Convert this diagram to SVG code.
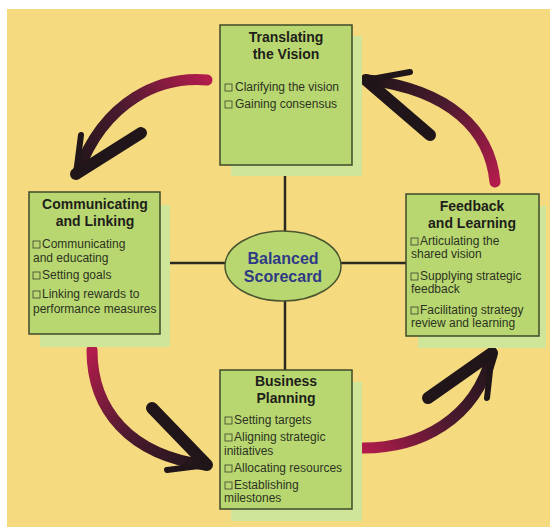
<svg xmlns="http://www.w3.org/2000/svg" width="550" height="530" viewBox="0 0 550 530">
  <defs>
    <style>
      .box { fill: #b9d770; stroke: #3e4a2a; stroke-width: 1.5; }
      .shadow { fill: #cfe59a; }
      .title { font-family: "Liberation Sans", Arial, sans-serif; font-weight: bold; font-size: 14px; fill: #1e1e1a; text-anchor: middle; }
      .item { font-family: "Liberation Sans", Arial, sans-serif; font-size: 12px; fill: #2c3322; }
      .chk { fill: none; stroke: #3a4030; stroke-width: 0.8; }
      .link { stroke: #2a2a20; stroke-width: 2.5; fill: none; }
      .shaft { fill: none; stroke-width: 11; stroke-linecap: round; }
      .barb { fill: none; stroke: #201519; stroke-width: 12; stroke-linecap: round; }
      .tick { fill: none; stroke: #201519; stroke-width: 6; stroke-linecap: round; }
      .hub { font-family: "Liberation Sans", Arial, sans-serif; font-weight: bold; font-size: 16px; fill: #2e3a86; text-anchor: middle; }
    </style>
    <linearGradient id="g1" gradientUnits="userSpaceOnUse" x1="207" y1="80" x2="78" y2="172">
      <stop offset="0" stop-color="#b11c4b"/><stop offset="0.55" stop-color="#4a1a2e"/><stop offset="1" stop-color="#201519"/>
    </linearGradient>
    <linearGradient id="g2" gradientUnits="userSpaceOnUse" x1="495" y1="182" x2="368" y2="80">
      <stop offset="0" stop-color="#b11c4b"/><stop offset="0.55" stop-color="#4a1a2e"/><stop offset="1" stop-color="#201519"/>
    </linearGradient>
    <linearGradient id="g3" gradientUnits="userSpaceOnUse" x1="92" y1="350" x2="205" y2="465">
      <stop offset="0" stop-color="#b11c4b"/><stop offset="0.55" stop-color="#4a1a2e"/><stop offset="1" stop-color="#201519"/>
    </linearGradient>
    <linearGradient id="g4" gradientUnits="userSpaceOnUse" x1="363" y1="448" x2="492" y2="355">
      <stop offset="0" stop-color="#b11c4b"/><stop offset="0.55" stop-color="#4a1a2e"/><stop offset="1" stop-color="#201519"/>
    </linearGradient>
  </defs>

  <!-- page and panel -->
  <rect x="0" y="0" width="550" height="530" fill="#ffffff"/>
  <rect x="7" y="9" width="543" height="518" fill="#f5da7f"/>

  <!-- cycle arrows -->
  <g id="cycle-arrows">
    <path class="shaft" stroke="url(#g1)" d="M 207,80 C 160,76 105,100 78,172"/>
    <path class="barb" d="M 76,174 L 141,133"/>
    <path class="tick" d="M 76,174 L 81,135"/>

    <path class="shaft" stroke="url(#g2)" d="M 495,182 C 490,130 450,90 368,80"/>
    <path class="barb" d="M 366,80 L 430,135"/>
    <path class="tick" d="M 366,80 L 410,72"/>

    <path class="shaft" stroke="url(#g3)" d="M 92,350 C 92,410 130,455 205,465"/>
    <path class="barb" d="M 207,465 L 152,408"/>
    <path class="tick" d="M 207,465 L 167,470"/>

    <path class="shaft" stroke="url(#g4)" d="M 363,448 C 420,448 475,420 492,355"/>
    <path class="barb" d="M 492,353 L 428,398"/>
    <path class="tick" d="M 492,353 L 487,398"/>
  </g>

  <!-- spokes to the hub -->
  <g id="connectors">
    <line class="link" x1="285" y1="165" x2="285" y2="240"/>
    <line class="link" x1="285" y1="292" x2="285" y2="370"/>
    <line class="link" x1="160" y1="263" x2="232" y2="263"/>
    <line class="link" x1="334" y1="263" x2="406" y2="263"/>
  </g>

  <g id="translating">
    <rect class="shadow" x="231" y="36" width="131" height="140"/>
    <rect class="box" x="220" y="25" width="132" height="140"/>
    <text class="title" x="286" y="42">Translating</text>
    <text class="title" x="286" y="59">the Vision</text>
    <rect class="chk" x="225" y="84" width="7" height="7"/>
    <text class="item" x="235" y="91">Clarifying the vision</text>
    <rect class="chk" x="225" y="101" width="7" height="7"/>
    <text class="item" x="235" y="108">Gaining consensus</text>
  </g>

  <g id="communicating">
    <rect class="shadow" x="40" y="205" width="130" height="142"/>
    <rect class="box" x="29" y="192" width="131" height="142"/>
    <text class="title" x="95" y="209">Communicating</text>
    <text class="title" x="95" y="226">and Linking</text>
    <rect class="chk" x="33" y="241" width="7" height="7"/>
    <text class="item" x="42" y="248">Communicating</text>
    <text class="item" x="33" y="262">and educating</text>
    <rect class="chk" x="33" y="272" width="7" height="7"/>
    <text class="item" x="42" y="279">Setting goals</text>
    <rect class="chk" x="33" y="291" width="7" height="7"/>
    <text class="item" x="42" y="298">Linking rewards to</text>
    <text class="item" x="33" y="313">performance measures</text>
  </g>

  <g id="feedback">
    <rect class="shadow" x="418" y="206" width="128" height="142"/>
    <rect class="box" x="406" y="194" width="133" height="142"/>
    <text class="title" x="472" y="211">Feedback</text>
    <text class="title" x="472" y="228">and Learning</text>
    <rect class="chk" x="411" y="238" width="7" height="7"/>
    <text class="item" x="420" y="245">Articulating the</text>
    <text class="item" x="411" y="258">shared vision</text>
    <rect class="chk" x="411" y="273" width="7" height="7"/>
    <text class="item" x="420" y="280">Supplying strategic</text>
    <text class="item" x="411" y="293">feedback</text>
    <rect class="chk" x="411" y="307" width="7" height="7"/>
    <text class="item" x="420" y="314">Facilitating strategy</text>
    <text class="item" x="411" y="327">review and learning</text>
  </g>

  <g id="planning">
    <rect class="shadow" x="231" y="382" width="131" height="139"/>
    <rect class="box" x="220" y="370" width="132" height="139"/>
    <text class="title" x="286" y="386">Business</text>
    <text class="title" x="286" y="403">Planning</text>
    <rect class="chk" x="225" y="417" width="7" height="7"/>
    <text class="item" x="234" y="424">Setting targets</text>
    <rect class="chk" x="225" y="434" width="7" height="7"/>
    <text class="item" x="234" y="441">Aligning strategic</text>
    <text class="item" x="224" y="455">initiatives</text>
    <rect class="chk" x="225" y="465" width="7" height="7"/>
    <text class="item" x="234" y="472">Allocating resources</text>
    <rect class="chk" x="225" y="482" width="7" height="7"/>
    <text class="item" x="234" y="489">Establishing</text>
    <text class="item" x="224" y="502">milestones</text>
  </g>

  <g id="balanced-scorecard">
    <ellipse cx="283" cy="266" rx="58" ry="35" fill="#b9d770" stroke="#4a5530" stroke-width="1.5"/>
    <text class="hub" x="283" y="264">Balanced</text>
    <text class="hub" x="283" y="282">Scorecard</text>
  </g>
</svg>
